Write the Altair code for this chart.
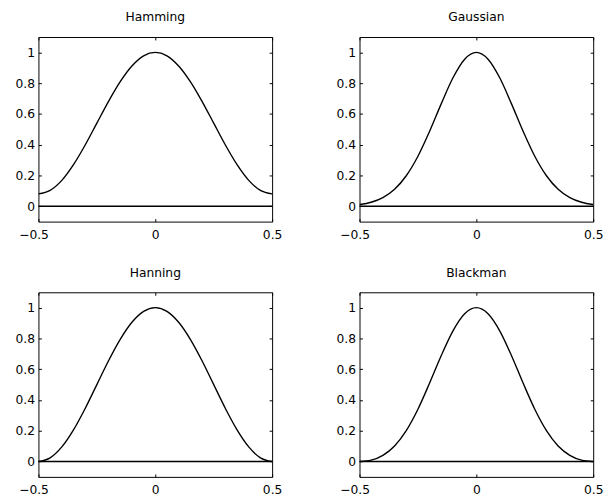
import altair as alt
import pandas as pd

x_vals = [-0.5, -0.45, -0.4, -0.35, -0.3, -0.25, -0.2, -0.15, -0.1, -0.05, 0.0,
          0.05, 0.1, 0.15, 0.2, 0.25, 0.3, 0.35, 0.4, 0.45, 0.5]

hamming = [0.08, 0.103, 0.168, 0.270, 0.398, 0.54, 0.682, 0.810, 0.912, 0.978, 1.0,
           0.978, 0.912, 0.810, 0.682, 0.54, 0.398, 0.270, 0.168, 0.103, 0.08]
gaussian = [0.011, 0.026, 0.056, 0.110, 0.198, 0.325, 0.487, 0.667, 0.835, 0.956, 1.0,
            0.956, 0.835, 0.667, 0.487, 0.325, 0.198, 0.110, 0.056, 0.026, 0.011]
hanning = [0.0, 0.024, 0.095, 0.206, 0.345, 0.5, 0.655, 0.794, 0.905, 0.976, 1.0,
           0.976, 0.905, 0.794, 0.655, 0.5, 0.345, 0.206, 0.095, 0.024, 0.0]
blackman = [0.0, 0.009, 0.040, 0.101, 0.201, 0.34, 0.510, 0.689, 0.849, 0.960, 1.0,
            0.960, 0.849, 0.689, 0.510, 0.34, 0.201, 0.101, 0.040, 0.009, 0.0]

titles = ["Hamming", "Gaussian", "Hanning", "Blackman"]
x_ticks = [-0.5, 0, 0.5]
y_ticks = [0, 0.2, 0.4, 0.6, 0.8, 1]
zero_level = [0]

FONT = "DejaVu Sans"
W, H = 238, 188


def panel(name, vals):
    df = pd.DataFrame({"x": x_vals, "y": vals})
    xs = alt.Scale(domain=[-0.5, 0.5], nice=False, zero=False)
    ys = alt.Scale(domain=[-0.1, 1.1], nice=False, zero=False)
    tick_common = dict(tickSize=3, offset=-3, domain=False, grid=False,
                       tickColor="black", tickWidth=1, title=None)
    line = alt.Chart(df).mark_line(color="black", strokeWidth=1.4,
                                   interpolate="monotone", clip=True).encode(
        x=alt.X("x:Q", scale=xs,
                axis=alt.Axis(orient="bottom", values=x_ticks, format="~g",
                              labelPadding=7, labelFontSize=12.5, labelFont=FONT,
                              labelColor="black", labelFlush=False,
                              labelOffset={"condition": {"test": "datum.value < 0", "value": -5},
                                           "value": 0},
                              **tick_common)),
        y=alt.Y("y:Q", scale=ys,
                axis=alt.Axis(orient="left", values=y_ticks, format="~g",
                              labelPadding=4, labelFontSize=12.5, labelFont=FONT,
                              labelColor="black", labelFlush=False, **tick_common)),
    )
    mirror = alt.Chart(df).mark_line(opacity=0).encode(
        x=alt.X("x:Q", scale=xs,
                axis=alt.Axis(orient="top", values=x_ticks, labels=False, **tick_common)),
        y=alt.Y("y:Q", scale=ys,
                axis=alt.Axis(orient="right", values=y_ticks, labels=False, **tick_common)),
    )
    zero = alt.Chart(pd.DataFrame({"z": zero_level})).mark_rule(
        color="black", strokeWidth=1.4).encode(
        y=alt.Y("z:Q", scale=ys, axis=None))
    return alt.layer(line, mirror, zero).resolve_axis(
        x="independent", y="independent").properties(
        width=W, height=H,
        title=alt.TitleParams(name, fontSize=12.5, font=FONT, fontWeight="normal",
                              color="black", offset=13))


chart = alt.concat(
    panel(titles[0], hamming), panel(titles[1], gaussian),
    panel(titles[2], hanning), panel(titles[3], blackman),
    columns=2, spacing={"row": 72, "column": 89}, bounds="flush",
).properties(
    padding={"left": 6, "top": -2, "right": 0, "bottom": 0}
).configure(background="white").configure_view(stroke="black", strokeWidth=1)

chart.save("out.html", embed_options={"renderer": "svg", "actions": False})
